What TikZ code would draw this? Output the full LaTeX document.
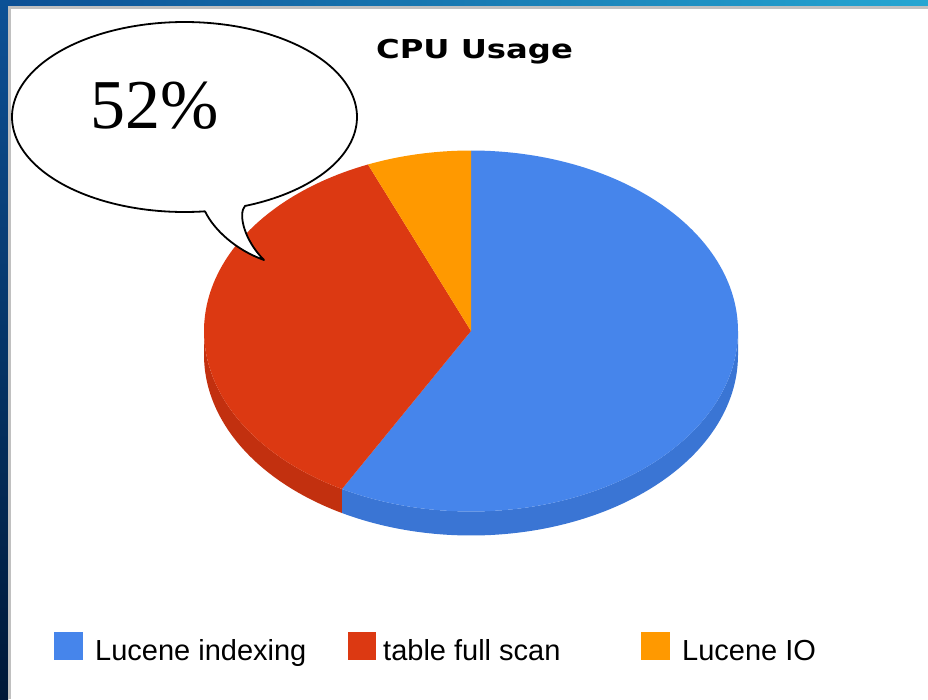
\documentclass[tikz,border=0pt]{standalone}
\usepackage{fontspec}
\usepackage{graphicx}
\newfontfamily\legendfont{Liberation Sans}
\newfontfamily\titlefont{DejaVu Sans}
\newfontfamily\bubblefont{Liberation Serif}

\definecolor{bluetop}{HTML}{4685EB}
\definecolor{blueside}{HTML}{3A75D4}
\definecolor{redtop}{HTML}{DC3912}
\definecolor{redside}{HTML}{C2300F}
\definecolor{orangetop}{HTML}{FF9900}
\definecolor{frameA}{HTML}{0C4F94}
\definecolor{frameB}{HTML}{25A6D2}
\definecolor{frameC}{HTML}{0C5196}
\definecolor{frameD}{HTML}{001838}
\definecolor{frameline}{HTML}{C0C0C0}

% pie geometry (1pt = 1 unit, y grows downwards)
\def\pieCX{471}
\def\pieCY{331}
\def\pieRX{267}
\def\pieRY{180.5}
\def\pieDepth{24}
\def\cutBR{118.9}   % blue / red boundary angle
\def\cutRO{247.3}   % red / orange boundary angle

\tikzset{
  swatch/.style={draw=none, minimum size=28.5pt, inner sep=0pt},
  legendtext/.style={anchor=base west, inner sep=0pt,
    font=\legendfont\fontsize{29}{29}\selectfont},
  titletext/.style={anchor=base, inner sep=0pt,
    font=\titlefont\bfseries\fontsize{26}{26}\selectfont},
  bubble/.style={draw=black, line width=1.8pt, fill=white, line join=round},
}

\begin{document}
\begin{tikzpicture}[x=1pt, y=-1pt]
\useasboundingbox (0,0) rectangle (928,699);

% window frame
\fill[frameline] (0,0) rectangle (928,699);
\shade[left color=frameA, right color=frameB] (0,0) rectangle (928,6);
\shade[top color=frameC, bottom color=frameD] (0,0) rectangle (8,699);
\fill[frameline] (8,6) rectangle (928,699);
\fill[white] (11,9) rectangle (928,699);

% title
\node[titletext] (title) at (474.5,58) {\scalebox{1.24}[1]{CPU Usage}};

% pie: side walls
\fill[blueside]
  plot[domain=0:\cutBR, samples=80] ({\pieCX+\pieRX*cos(\x)},{\pieCY+\pieRY*sin(\x)})
  -- plot[domain=\cutBR:0, samples=80] ({\pieCX+\pieRX*cos(\x)},{\pieCY+\pieDepth+\pieRY*sin(\x)})
  -- cycle;
\fill[redside]
  plot[domain=\cutBR:180, samples=50] ({\pieCX+\pieRX*cos(\x)},{\pieCY+\pieRY*sin(\x)})
  -- plot[domain=180:\cutBR, samples=50] ({\pieCX+\pieRX*cos(\x)},{\pieCY+\pieDepth+\pieRY*sin(\x)})
  -- cycle;

% pie: top faces
\coordinate (pc) at (\pieCX,\pieCY);
\fill[bluetop] (pc)
  -- plot[domain=-90:\cutBR, samples=150] ({\pieCX+\pieRX*cos(\x)},{\pieCY+\pieRY*sin(\x)})
  -- cycle;
\fill[redtop] (pc)
  -- plot[domain=\cutBR:\cutRO, samples=90] ({\pieCX+\pieRX*cos(\x)},{\pieCY+\pieRY*sin(\x)})
  -- cycle;
\fill[orangetop] (pc)
  -- plot[domain=\cutRO:270, samples=30] ({\pieCX+\pieRX*cos(\x)},{\pieCY+\pieRY*sin(\x)})
  -- cycle;

% speech bubble
\coordinate (tip) at (264,260);
\draw[bubble]
  plot[domain=83.2:429.5, samples=200] ({184.5+172.5*cos(\x)},{117+95*sin(\x)})
  .. controls (238,214) and (244,240) .. (tip)
  .. controls (236,250) and (214,230) .. (205,211.3)
  -- cycle;
\node[inner sep=0pt, anchor=base, font=\bubblefont\fontsize{70}{70}\selectfont]
  (pct) at (155,128) {52\%};

% legend
\node[swatch, fill=bluetop]   (sw1) at (68.5,646) {};
\node[legendtext] (lg1) at (95,660) {Lucene indexing};
\node[swatch, fill=redtop]    (sw2) at (362,646) {};
\node[legendtext] (lg2) at (383,660) {table full scan};
\node[swatch, fill=orangetop] (sw3) at (655.5,646) {};
\node[legendtext] (lg3) at (682,660) {Lucene IO};
\end{tikzpicture}
\end{document}
